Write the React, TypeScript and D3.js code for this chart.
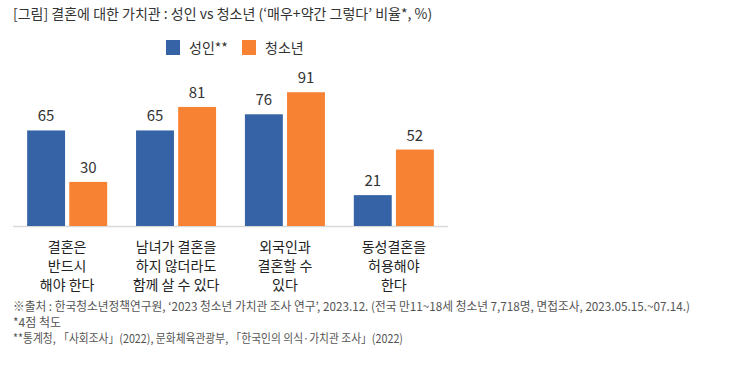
import { useEffect, useRef } from "react";
import * as d3 from "d3";

const categories = [
  ["결혼은", "반드시", "해야 한다"],
  ["남녀가 결혼을", "하지 않더라도", "함께 살 수 있다"],
  ["외국인과", "결혼할 수", "있다"],
  ["동성결혼을", "허용해야", "한다"],
];
const seriesNames = ["성인**", "청소년"];
const adults = [65, 65, 76, 21];
const youth = [30, 81, 91, 52];
const colors = ["#3563a5", "#f88234"];

const title = "[그림] 결혼에 대한 가치관 : 성인 vs 청소년 (‘매우+약간 그렇다’ 비율*, %)";
const notes = [
  "※출처 : 한국청소년정책연구원, ‘2023 청소년 가치관 조사 연구’, 2023.12. (전국 만11~18세 청소년 7,718명, 면접조사, 2023.05.15.~07.14.)",
  "*4점 척도",
  "**통계청, 「사회조사」(2022), 문화체육관광부, 「한국인의 의식·가치관 조사」(2022)",
];

const FONT = "'Noto Sans CJK KR', 'Noto Sans', sans-serif";

export default function App() {
  const svgRef = useRef<SVGSVGElement | null>(null);

  useEffect(() => {
    if (!svgRef.current) return;
    const svg = d3.select(svgRef.current);
    svg.selectAll("*").remove();

    const baseline = 226;
    const x0 = d3.scaleBand<number>()
      .domain(d3.range(categories.length))
      .range([13, 448])
      .paddingInner(0.265)
      .paddingOuter(0.13);
    const x1 = d3.scaleBand<number>()
      .domain([0, 1])
      .range([0, x0.bandwidth()])
      .paddingInner(0.1);
    const y = d3.scaleLinear().domain([0, 100]).range([baseline, baseline - 147]);

    // title
    svg.append("text")
      .attr("x", 13).attr("y", 19)
      .attr("font-size", 14).attr("fill", "#333")
      .text(title);

    // legend
    const legendX = [166, 242];
    seriesNames.forEach((name, i) => {
      svg.append("rect")
        .attr("x", legendX[i]).attr("y", 40)
        .attr("width", 14).attr("height", 15)
        .attr("fill", colors[i]);
      svg.append("text")
        .attr("x", legendX[i] + 23).attr("y", 53)
        .attr("font-size", 14).attr("fill", "#333")
        .text(name);
    });

    // axis line
    svg.append("line")
      .attr("x1", 13).attr("x2", 448)
      .attr("y1", baseline + 0.5).attr("y2", baseline + 0.5)
      .attr("stroke", "#d9d9d9").attr("stroke-width", 1.5);

    const groups = svg.append("g");
    [adults, youth].forEach((vals, s) => {
      vals.forEach((v, i) => {
        const bx = x0(i)! + x1(s)!;
        groups.append("rect")
          .attr("x", bx).attr("y", y(v))
          .attr("width", x1.bandwidth()).attr("height", baseline - y(v))
          .attr("fill", colors[s]);
        groups.append("text")
          .attr("x", bx + x1.bandwidth() / 2).attr("y", y(v) - 9)
          .attr("text-anchor", "middle")
          .attr("font-size", 15).attr("fill", "#333")
          .text(v);
      });
    });

    // category labels
    categories.forEach((lines, i) => {
      const cx = x0(i)! + x0.bandwidth() / 2;
      lines.forEach((l, j) => {
        svg.append("text")
          .attr("x", cx).attr("y", 252 + j * 19)
          .attr("text-anchor", "middle")
          .attr("font-size", 14).attr("fill", "#222")
          .text(l);
      });
    });

    // notes
    notes.forEach((n, j) => {
      const t = svg.append("text")
        .attr("x", 13).attr("y", 311 + j * 16)
        .attr("font-size", 12).attr("fill", "#555")
        .text(n);
      if (j === 0) t.attr("textLength", 677).attr("lengthAdjust", "spacingAndGlyphs");
      if (j === 2) t.attr("textLength", 390).attr("lengthAdjust", "spacingAndGlyphs");
    });
  }, []);

  return (
    <svg
      ref={svgRef}
      width={750}
      height={374}
      style={{ position: "absolute", left: 0, top: 0, background: "#fff", fontFamily: FONT }}
    />
  );
}
